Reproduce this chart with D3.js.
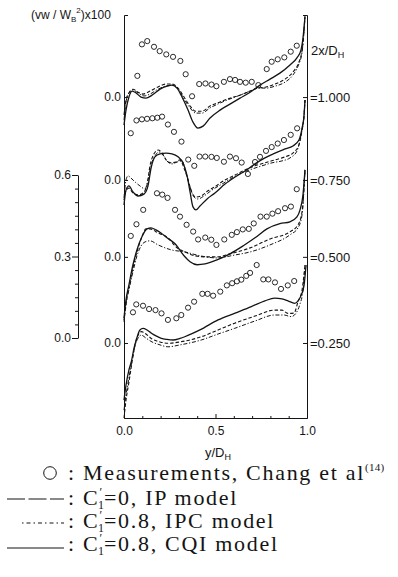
<!DOCTYPE html>
<html>
<head>
<meta charset="utf-8">
<script src="https://cdn.jsdelivr.net/npm/d3@7"></script>
<style>
  body { margin: 0; background: #fff; }
  svg { display: block; }
</style>
</head>
<body>
<div id="chart"></div>
<script>
// stations 2x/D_H and where each profile's zero sits (in vw/Wb^2 x100 units)
var stations = ["1.000", "0.750", "0.500", "0.250"];
var stationZero = [0.905, 0.600, 0.317, 0];

var xTickVals = [0, 0.5, 1.0];
var xMinorTicks = [0.1, 0.2, 0.3, 0.4, 0.6, 0.7, 0.8, 0.9];
var barTicks = [0, 0.3, 0.6];
var barMinorTicks = [0.05, 0.1, 0.15, 0.2, 0.25, 0.35, 0.4, 0.45, 0.5, 0.55];

// measurements, Chang et al  [y/D_H, value]
var meas100 = [[0.073,0.078],[0.098,0.194],[0.127,0.206],[0.164,0.185],[0.195,0.169],[0.231,0.157],[0.268,0.148],[0.308,0.133],[0.337,0.084],[0.372,0.003],[0.411,0.048],[0.445,0.050],[0.478,0.046],[0.505,0.040],[0.546,0.056],[0.579,0.066],[0.607,0.063],[0.634,0.056],[0.665,0.053],[0.698,0.056],[0.734,0.044],[0.780,0.103],[0.807,0.130],[0.840,0.139],[0.876,0.146],[0.911,0.167],[0.944,0.189]];
var meas075 = [[0.037,0.172],[0.068,0.219],[0.098,0.223],[0.126,0.225],[0.155,0.227],[0.182,0.229],[0.208,0.233],[0.240,0.204],[0.273,0.177],[0.314,0.141],[0.351,0.075],[0.384,0.052],[0.413,0.086],[0.444,0.086],[0.478,0.085],[0.507,0.081],[0.546,0.067],[0.579,0.086],[0.612,0.080],[0.643,0.064],[0.677,0.022],[0.716,0.066],[0.743,0.085],[0.776,0.107],[0.807,0.121],[0.840,0.134],[0.874,0.147],[0.911,0.166],[0.946,0.190]];
var meas050 = [[0.037,0.077],[0.068,0.120],[0.105,0.173],[0.180,0.234],[0.209,0.229],[0.238,0.217],[0.279,0.173],[0.306,0.148],[0.342,0.118],[0.378,0.093],[0.405,0.064],[0.444,0.071],[0.477,0.063],[0.505,0.044],[0.548,0.064],[0.589,0.081],[0.617,0.091],[0.649,0.101],[0.682,0.103],[0.709,0.123],[0.746,0.148],[0.780,0.148],[0.811,0.159],[0.842,0.168],[0.880,0.179],[0.912,0.185],[0.944,0.249]];
var meas025 = [[0.049,0.113],[0.067,0.142],[0.104,0.137],[0.137,0.125],[0.172,0.121],[0.205,0.109],[0.240,0.085],[0.286,0.091],[0.313,0.103],[0.350,0.130],[0.383,0.152],[0.428,0.181],[0.457,0.181],[0.487,0.174],[0.526,0.189],[0.562,0.212],[0.591,0.220],[0.617,0.227],[0.641,0.233],[0.668,0.247],[0.689,0.258],[0.725,0.287],[0.761,0.234],[0.789,0.234],[0.825,0.223],[0.858,0.199],[0.895,0.212],[0.930,0.228]];

// C1'=0, IP model
var ip100 = [[0,-0.066],[0.011,-0.011],[0.027,0.015],[0.049,0.029],[0.077,0.018],[0.104,0.011],[0.142,0.022],[0.186,0.037],[0.230,0.048],[0.262,0.048],[0.295,0.033],[0.328,0],[0.361,-0.033],[0.393,-0.052],[0.426,-0.052],[0.470,-0.033],[0.525,-0.018],[0.579,-0.004],[0.634,0.007],[0.689,0.022],[0.732,0.033],[0.776,0.037],[0.825,0.048],[0.880,0.066],[0.923,0.092],[0.951,0.121],[0.973,0.173],[0.984,0.247],[0.989,0.302]];
var ip075 = [[0,-0.074],[0.011,-0.040],[0.027,-0.030],[0.049,-0.048],[0.077,-0.055],[0.104,-0.048],[0.126,-0.018],[0.142,0.052],[0.164,0.096],[0.186,0.110],[0.208,0.099],[0.230,0.074],[0.257,0.063],[0.284,0.066],[0.306,0.074],[0.328,0.044],[0.350,0],[0.372,-0.048],[0.393,-0.063],[0.421,-0.059],[0.459,-0.040],[0.503,-0.022],[0.552,0],[0.607,0.018],[0.661,0.037],[0.716,0.052],[0.770,0.063],[0.825,0.074],[0.880,0.085],[0.923,0.099],[0.956,0.129],[0.973,0.184],[0.984,0.239],[0.989,0.294]];
var ip050 = [[0,-0.239],[0.011,-0.177],[0.027,-0.114],[0.049,-0.040],[0.071,0.018],[0.098,0.074],[0.120,0.103],[0.142,0.103],[0.186,0.088],[0.240,0.070],[0.290,0.033],[0.333,0.018],[0.388,0.004],[0.443,0],[0.508,0],[0.579,0.011],[0.689,0.033],[0.798,0.066],[0.907,0.092],[0.951,0.118],[0.973,0.166],[0.989,0.320]];
var ip025 = [[0,-0.276],[0.011,-0.210],[0.027,-0.144],[0.044,-0.070],[0.060,-0.007],[0.077,0.029],[0.095,0.042],[0.120,0.033],[0.153,0.015],[0.197,0.004],[0.240,-0.001],[0.306,0.004],[0.422,0.023],[0.514,0.048],[0.605,0.073],[0.716,0.099],[0.823,0.121],[0.863,0.121],[0.896,0.109],[0.929,0.110],[0.951,0.152],[0.973,0.195],[0.989,0.287]];

// C1'=0.8, IPC model
var ipc100 = [[0,-0.085],[0.011,-0.018],[0.027,0.015],[0.049,0.026],[0.077,0.015],[0.109,0.004],[0.142,0.011],[0.186,0.029],[0.224,0.040],[0.262,0.044],[0.295,0.029],[0.328,-0.007],[0.361,-0.040],[0.393,-0.059],[0.426,-0.059],[0.470,-0.040],[0.525,-0.022],[0.579,-0.007],[0.634,0.007],[0.689,0.022],[0.732,0.033],[0.776,0.033],[0.825,0.040],[0.880,0.055],[0.923,0.081],[0.951,0.114],[0.973,0.166],[0.984,0.247],[0.989,0.302]];
var ipc075 = [[0,-0.066],[0.011,0],[0.022,0.015],[0.038,0.007],[0.060,-0.007],[0.087,-0.022],[0.115,-0.033],[0.131,0],[0.148,0.055],[0.169,0.088],[0.191,0.103],[0.213,0.092],[0.240,0.066],[0.262,0.059],[0.290,0.066],[0.317,0.070],[0.339,0.026],[0.361,-0.026],[0.383,-0.063],[0.404,-0.070],[0.437,-0.059],[0.481,-0.037],[0.536,-0.015],[0.590,0.007],[0.645,0.026],[0.699,0.040],[0.754,0.052],[0.809,0.063],[0.863,0.070],[0.907,0.081],[0.945,0.106],[0.967,0.165],[0.984,0.239],[0.989,0.294]];
var ipc050 = [[0,-0.232],[0.011,-0.169],[0.027,-0.121],[0.049,-0.055],[0.071,0.004],[0.093,0.040],[0.115,0.055],[0.142,0.059],[0.186,0.044],[0.257,0.026],[0.333,0.018],[0.415,0.004],[0.508,-0.004],[0.607,0.007],[0.689,0.018],[0.798,0.044],[0.907,0.081],[0.951,0.107],[0.973,0.155],[0.989,0.320]];
var ipc025 = [[0,-0.247],[0.011,-0.191],[0.027,-0.129],[0.044,-0.063],[0.060,-0.011],[0.077,0.018],[0.095,0.029],[0.120,0.018],[0.153,0.004],[0.197,-0.007],[0.240,-0.014],[0.306,-0.007],[0.422,0.011],[0.514,0.033],[0.605,0.054],[0.716,0.081],[0.823,0.103],[0.874,0.103],[0.914,0.097],[0.940,0.110],[0.960,0.140],[0.978,0.195],[0.989,0.287]];

// C1'=0.8, CQI model
var cqi100 = [[0,-0.103],[0.011,-0.048],[0.027,0],[0.044,0.022],[0.066,0.015],[0.093,0],[0.120,-0.004],[0.153,0.007],[0.197,0.029],[0.235,0.040],[0.262,0.044],[0.290,0.033],[0.317,0],[0.350,-0.048],[0.377,-0.092],[0.404,-0.114],[0.432,-0.107],[0.470,-0.077],[0.525,-0.048],[0.579,-0.026],[0.634,-0.004],[0.689,0.018],[0.743,0.044],[0.798,0.066],[0.852,0.088],[0.907,0.118],[0.945,0.144],[0.967,0.173],[0.978,0.217],[0.989,0.294]];
var cqi075 = [[0,-0.092],[0.011,-0.037],[0.027,-0.022],[0.049,-0.044],[0.077,-0.059],[0.109,-0.052],[0.131,-0.022],[0.148,0.044],[0.169,0.085],[0.197,0.096],[0.230,0.099],[0.262,0.096],[0.295,0.085],[0.322,0.063],[0.344,0.018],[0.361,-0.044],[0.377,-0.099],[0.393,-0.110],[0.415,-0.096],[0.454,-0.070],[0.497,-0.048],[0.552,-0.015],[0.607,0.011],[0.661,0.033],[0.716,0.059],[0.770,0.081],[0.825,0.099],[0.880,0.114],[0.923,0.125],[0.956,0.147],[0.973,0.191],[0.984,0.239],[0.989,0.294]];
var cqi050 = [[0,-0.225],[0.011,-0.158],[0.027,-0.103],[0.049,-0.029],[0.071,0.026],[0.098,0.074],[0.126,0.103],[0.148,0.107],[0.175,0.099],[0.202,0.088],[0.235,0.070],[0.279,0.048],[0.328,0.004],[0.361,-0.018],[0.399,-0.029],[0.443,-0.026],[0.508,-0.011],[0.579,0.011],[0.650,0.040],[0.716,0.070],[0.781,0.103],[0.852,0.122],[0.907,0.129],[0.945,0.147],[0.962,0.173],[0.978,0.228],[0.989,0.320]];
var cqi025 = [[0,-0.210],[0.011,-0.155],[0.027,-0.099],[0.040,-0.069],[0.055,-0.018],[0.067,0.011],[0.087,0.048],[0.104,0.054],[0.126,0.048],[0.150,0.036],[0.175,0.026],[0.204,0.017],[0.235,0.013],[0.268,0.011],[0.306,0.017],[0.332,0.023],[0.415,0.048],[0.514,0.085],[0.607,0.110],[0.696,0.134],[0.770,0.155],[0.823,0.165],[0.863,0.162],[0.896,0.155],[0.933,0.146],[0.951,0.155],[0.969,0.177],[0.984,0.213],[0.995,0.287]];

var legendLabels = ["Measurements, Chang et al", "=0,  IP model", "=0.8,  IPC model", "=0.8,  CQI model"];

// ---- drawing ----
var width = 398, height = 577;
var sans = "'Liberation Sans', Arial, sans-serif";
var serif = "'Liberation Serif', 'Times New Roman', serif";
var ink = "#141414";

var svg = d3.select("#chart").append("svg")
    .attr("width", width)
    .attr("height", height);
svg.append("rect").attr("width", width).attr("height", height).attr("fill", "#fff");

var x = d3.scaleLinear().domain([0, 1]).range([124, 307]);
var y = d3.scaleLinear().domain([-0.276, 1.207]).range([418, 15]);
var yBar = d3.scaleLinear().domain([0, 0.6]).range([338, 175]);

var profiles = stations.map(function(s, i) {
  return {
    station: s,
    zero: stationZero[i],
    meas: [meas100, meas075, meas050, meas025][i],
    ip: [ip100, ip075, ip050, ip025][i],
    ipc: [ipc100, ipc075, ipc050, ipc025][i],
    cqi: [cqi100, cqi075, cqi050, cqi025][i]
  };
});

var lineStyle = {
  ip:  { dash: "3.5,2", w: 1.1 },
  ipc: { dash: "4,1.8,1.2,1.8", w: 1.0 },
  cqi: { dash: null, w: 1.3 }
};

function styleAxis(g, size) {
  g.attr("font-family", sans).attr("font-size", size).attr("color", ink);
  g.selectAll("path, line").attr("stroke-width", 1);
}

// left axis with per-profile zeros
svg.append("g")
  .attr("transform", "translate(124,0)")
  .call(d3.axisLeft(y).tickValues(stationZero).tickFormat(function() { return "0.0"; })
    .tickSizeInner(-4).tickSizeOuter(-4).tickPadding(3))
  .call(styleAxis, 12);

// right axis with stations
svg.append("g")
  .attr("transform", "translate(307,0)")
  .call(d3.axisRight(y).tickValues(stationZero).tickFormat(function(d, i) { return "=" + stations[i]; })
    .tickSizeInner(-4).tickSizeOuter(-4).tickPadding(3))
  .call(styleAxis, 13);

// bottom axis
svg.append("g")
  .attr("transform", "translate(0,418)")
  .call(d3.axisBottom(x).tickValues(xTickVals).tickFormat(d3.format(".1f"))
    .tickSizeInner(-4).tickSizeOuter(0).tickPadding(8))
  .call(styleAxis, 12);
svg.append("g")
  .attr("transform", "translate(0,418)")
  .call(d3.axisBottom(x).tickValues(xMinorTicks).tickFormat("").tickSize(-2).tickSizeOuter(0))
  .call(function(g) { g.select(".domain").remove(); })
  .call(styleAxis, 12);

// scale bar on the left
svg.append("g")
  .attr("transform", "translate(78,0)")
  .call(d3.axisLeft(yBar).tickValues(barTicks).tickFormat(d3.format(".1f"))
    .tickSize(6).tickSizeOuter(0).tickPadding(1))
  .call(styleAxis, 12);
svg.append("g")
  .attr("transform", "translate(78,0)")
  .call(d3.axisLeft(yBar).tickValues(barMinorTicks).tickFormat("").tickSize(3))
  .call(function(g) { g.select(".domain").remove(); })
  .call(styleAxis, 12);

// axis titles
var t1 = svg.append("text").attr("x", 31).attr("y", 19)
  .attr("font-family", sans).attr("font-size", 12).attr("fill", ink);
t1.append("tspan").text("(vw / W");
t1.append("tspan").attr("font-size", 8).attr("dy", 3).text("B");
t1.append("tspan").attr("font-size", 8).attr("dy", -9).text("2");
t1.append("tspan").attr("dy", 6).text(")x100");

var t2 = svg.append("text").attr("x", 311).attr("y", 55)
  .attr("font-family", sans).attr("font-size", 13).attr("fill", ink);
t2.append("tspan").text("2x/D");
t2.append("tspan").attr("font-size", 9).attr("dy", 3).text("H");

var t3 = svg.append("text").attr("x", 205).attr("y", 457)
  .attr("font-family", sans).attr("font-size", 13).attr("fill", ink);
t3.append("tspan").text("y/D");
t3.append("tspan").attr("font-size", 9).attr("dy", 3).text("H");

// model lines
var plot = svg.append("g");
profiles.forEach(function(p) {
  var line = d3.line()
    .x(function(d) { return x(d[0]); })
    .y(function(d) { return y(d[1] + p.zero); })
    .curve(d3.curveMonotoneX);
  ["ip", "ipc", "cqi"].forEach(function(k) {
    plot.append("path")
      .datum(p[k])
      .attr("d", line)
      .attr("fill", "none")
      .attr("stroke", ink)
      .attr("stroke-width", lineStyle[k].w)
      .attr("stroke-dasharray", lineStyle[k].dash);
  });
  plot.append("g")
    .selectAll("circle")
    .data(p.meas)
    .enter()
    .append("circle")
      .attr("cx", function(d) { return x(d[0]); })
      .attr("cy", function(d) { return y(d[1] + p.zero); })
      .attr("r", 2.6)
      .attr("fill", "none")
      .attr("stroke", ink)
      .attr("stroke-width", 0.9);
});

// legend
var leg = svg.append("g").attr("font-family", serif).attr("font-size", 22)
  .attr("fill", ink).style("letter-spacing", "1.7px").style("white-space", "pre");
var rowBase = [480, 505, 528, 551];
var rowLine = [473, 499, 523, 548];

leg.append("circle").attr("cx", 50).attr("cy", rowLine[0]).attr("r", 6.3)
  .attr("fill", "none").attr("stroke", ink).attr("stroke-width", 1);
var r1 = leg.append("text").attr("x", 68).attr("y", rowBase[0]);
r1.append("tspan").text(": " + legendLabels[0]);
r1.append("tspan").attr("font-size", 11).attr("dy", -9).style("letter-spacing", "0.3px").text("(14)");

var legDash = ["18,3.5", "1.5,3,4,3", null];
var legStart = [7, 22, 7];
["ip", "ipc", "cqi"].forEach(function(k, i) {
  leg.append("line")
    .attr("x1", legStart[i]).attr("x2", 64)
    .attr("y1", rowLine[i + 1]).attr("y2", rowLine[i + 1])
    .attr("stroke", ink).attr("stroke-width", 1.1)
    .attr("stroke-dasharray", legDash[i]);
  var t = leg.append("text").attr("x", 68).attr("y", rowBase[i + 1]);
  t.append("tspan").text(": C");
  t.append("tspan").attr("font-size", 12).attr("dy", -9).style("letter-spacing", "0px").text("\u2032");
  t.append("tspan").attr("font-size", 12).attr("dx", -4).attr("dy", 13).style("letter-spacing", "0px").text("1");
  t.append("tspan").attr("dy", -4).text(legendLabels[i + 1]);
});
</script>
</body>
</html>
